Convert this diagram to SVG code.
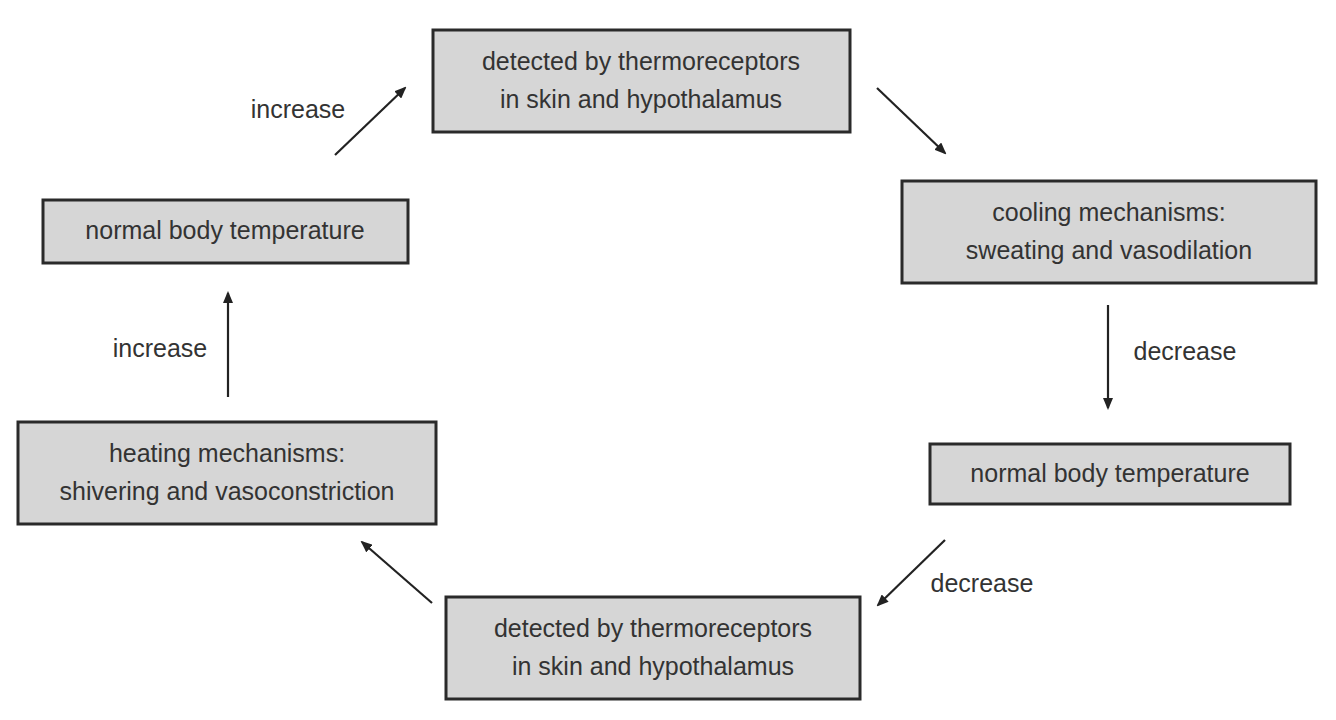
<svg xmlns="http://www.w3.org/2000/svg" width="1336" height="720" viewBox="0 0 1336 720">
<style>
.box{fill:#d6d6d6;stroke:#2a2a2a;stroke-width:3}
text{font-family:"Liberation Sans",Arial,sans-serif;font-size:25px;fill:#333;text-anchor:middle}
.c line{stroke:#222;stroke-width:2.2;marker-end:url(#ah)}
</style>
<defs><marker id="ah" markerWidth="12" markerHeight="10" refX="10" refY="5" orient="auto" markerUnits="userSpaceOnUse"><path d="M0,0 L12,5 L0,10 Z" fill="#222"/></marker></defs>
<rect width="1336" height="720" fill="#fff"/>
<g id="n1"><rect class="box" x="433" y="30" width="417" height="102"/><text x="641" y="70">detected by thermoreceptors</text><text x="641" y="108">in skin and hypothalamus</text></g>
<g id="n2"><rect class="box" x="902" y="181" width="414" height="102"/><text x="1109" y="221">cooling mechanisms:</text><text x="1109" y="259">sweating and vasodilation</text></g>
<g id="n3"><rect class="box" x="930" y="444" width="360" height="60"/><text x="1110" y="482">normal body temperature</text></g>
<g id="n4"><rect class="box" x="446" y="597" width="414" height="102"/><text x="653" y="637">detected by thermoreceptors</text><text x="653" y="675">in skin and hypothalamus</text></g>
<g id="n5"><rect class="box" x="18" y="422" width="418" height="102"/><text x="227" y="462">heating mechanisms:</text><text x="227" y="500">shivering and vasoconstriction</text></g>
<g id="n6"><rect class="box" x="43" y="200" width="365" height="63"/><text x="225" y="239">normal body temperature</text></g>
<g class="c">
<line x1="335" y1="155" x2="405" y2="88"/>
<line x1="877" y1="88" x2="945" y2="153"/>
<line x1="1108" y1="305" x2="1108" y2="408"/>
<line x1="945" y1="540" x2="878" y2="605"/>
<line x1="432" y1="603" x2="362" y2="542"/>
<line x1="228" y1="397" x2="228" y2="293"/>
</g>
<text x="298" y="118">increase</text>
<text x="1185" y="360">decrease</text>
<text x="982" y="592">decrease</text>
<text x="160" y="357">increase</text>
</svg>
